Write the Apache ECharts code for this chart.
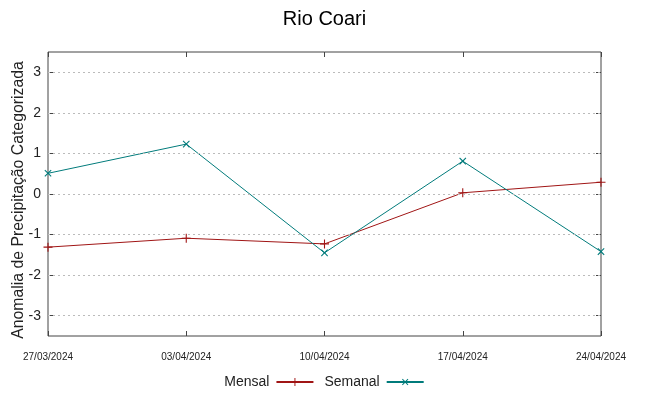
<!DOCTYPE html>
<html><head><meta charset="utf-8">
<script src="https://cdn.jsdelivr.net/npm/echarts@6/dist/echarts.min.js"></script>
<style>html,body{margin:0;padding:0;background:#fff}#c{width:649px;height:396px}</style>
</head><body><div id="c"></div>
<script>
const categories = ['27/03/2024','03/04/2024','10/04/2024','17/04/2024','24/04/2024'];
const mensal = [-1.31, -1.09, -1.23, 0.03, 0.29];
const semanal = [0.51, 1.23, -1.45, 0.81, -1.42];
const yTicks = [-3,-2,-1,0,1,2,3];

const plusPath = 'path://M4.4,0H5.6V4.4H10V5.6H5.6V10H4.4V5.6H0V4.4H4.4Z';
const chart = echarts.init(document.getElementById('c'));
const font = 'Liberation Sans, Arial, sans-serif';
const tickStyle = {show: true, inside: true, length: 5, lineStyle: {color: '#444'}};
chart.setOption({
  animation: false,
  title: {text: 'Rio Coari', left: 'center', top: 4, textStyle: {fontFamily: font, fontSize: 20, fontWeight: 'normal', color: '#000'}},
  grid: {left: 48, right: 48, top: 52, bottom: 60, show: true, borderColor: '#444', borderWidth: 1,
         containLabel: false, outerBoundsMode: 'none'},
  legend: {
    bottom: 2, left: 'center', align: 'right', itemWidth: 37, itemHeight: 10, itemGap: 10,
    textStyle: {fontFamily: font, fontSize: 14, color: '#222', padding: [0, 2, 0, 0]},
    data: [{name: 'Mensal'}, {name: 'Semanal'}]
  },
  xAxis: [{
    type: 'category', data: categories, boundaryGap: false, position: 'bottom',
    axisLine: {show: false, onZero: false},
    axisTick: tickStyle,
    axisLabel: {fontFamily: font, fontSize: 10, color: '#222', margin: 16, interval: 0},
    splitLine: {show: false}
  }, {
    type: 'category', data: categories, boundaryGap: false, position: 'top',
    axisLine: {show: false, onZero: false},
    axisTick: tickStyle, axisLabel: {show: false}, splitLine: {show: false}
  }],
  yAxis: [{
    type: 'value', min: -3.5, max: 3.5, interval: 0.5,
    name: 'Anomalia de Precipitação Categorizada', nameLocation: 'middle', nameGap: 21,
    nameMoveOverlap: false,
    nameTextStyle: {fontFamily: font, fontSize: 15.8, color: '#222', padding: [0, 12, 0, 0]},
    axisLine: {show: false, onZero: false},
    axisTick: Object.assign({customValues: yTicks}, tickStyle),
    axisLabel: {fontFamily: font, fontSize: 14, color: '#222', margin: 7, customValues: yTicks},
    splitLine: {show: false}
  }, {
    type: 'value', min: -3.5, max: 3.5, interval: 0.5, position: 'right',
    axisLine: {show: false, onZero: false},
    axisTick: Object.assign({customValues: yTicks}, tickStyle),
    axisLabel: {show: false}, splitLine: {show: false}
  }],
  series: [
    {name: 'Mensal', type: 'line', data: mensal, color: '#a01515',
     lineStyle: {width: 1, color: '#a01515'}, symbol: plusPath, symbolSize: 9, showAllSymbol: true,
     itemStyle: {color: '#a01515'},
     markLine: {silent: true, symbol: 'none', label: {show: false},
       lineStyle: {color: '#bbb', type: [2, 3], width: 1},
       data: yTicks.map(v => ({yAxis: v}))}},
    {name: 'Semanal', type: 'line', data: semanal, color: '#007b7b',
     lineStyle: {width: 1, color: '#007b7b'}, symbol: plusPath, symbolRotate: 45, symbolSize: 9, showAllSymbol: true,
     itemStyle: {color: '#007b7b'}}
  ]
});
</script></body></html>
